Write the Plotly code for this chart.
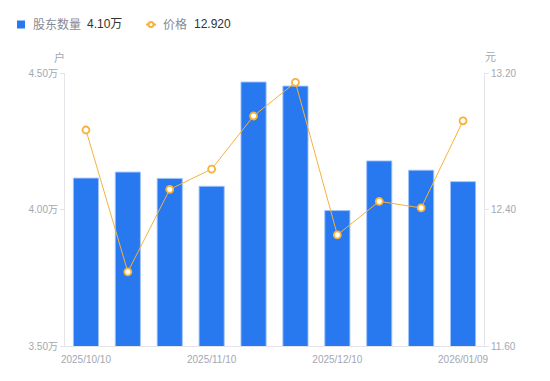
import plotly.graph_objects as go

dates = ["2025/10/10", "2025/10/20", "2025/10/31", "2025/11/10", "2025/11/20",
         "2025/11/28", "2025/12/10", "2025/12/19", "2025/12/31", "2026/01/09"]
holders_wan = [4.115, 4.137, 4.114, 4.085, 4.467, 4.452, 3.996, 4.178, 4.144, 4.102]
price = [12.866, 12.034, 12.518, 12.637, 12.948, 13.145, 12.251, 12.448, 12.409, 12.920]

x_ticks = ["2025/10/10", "2025/11/10", "2025/12/10", "2026/01/09"]
left_ticks = [3.5, 4.0, 4.5]
left_ticktext = ["3.50万", "4.00万", "4.50万"]
right_ticks = [11.6, 12.4, 13.2]
right_ticktext = ["11.60", "12.40", "13.20"]
legend_names = ["股东数量", "价格"]
legend_values = ["4.10万", "12.920"]

FONT = "Liberation Sans, Arial, Noto Sans CJK SC, sans-serif"
GRAY = "#a3a7b3"
AXIS = "#e3e5ea"
BLUE = "#2878f0"
ORANGE = "#f7b23b"

# page body has an 8px default margin; figure is sized so the photographed
# window (550x381) maps onto the intended layout
OFF = 8
W, H = 550 - OFF, 381 - OFF
PL, PR, PT, PB = 65, 484, 73, 346          # plot area in window pixels
L, T = PL - OFF, PT - OFF
R, B = W - (PR - OFF), H - (PB - OFF)
PW, PH = PR - PL, PB - PT


def px(x):
    return (x - PL) / PW


def py(y):
    return (PB - y) / PH


fig = go.Figure()
fig.add_trace(go.Bar(
    x=dates, y=holders_wan, yaxis="y", name=legend_names[0],
    marker=dict(color=BLUE, line=dict(color="rgba(160,195,250,0.9)", width=1)),
    width=0.6,
))
fig.add_trace(go.Scatter(
    x=dates, y=price, yaxis="y2", mode="lines+markers", name=legend_names[1],
    line=dict(color=ORANGE, width=1),
    marker=dict(symbol="circle", size=7, color="white", line=dict(color=ORANGE, width=1.8)),
))

shapes = [
    dict(type="rect", xref="paper", yref="paper", x0=px(17), x1=px(25), y0=py(28.5), y1=py(20.5),
         fillcolor=BLUE, line=dict(width=0)),
    dict(type="line", xref="paper", yref="paper", x0=px(146), x1=px(156), y0=py(24.5), y1=py(24.5),
         line=dict(color=ORANGE, width=2)),
    dict(type="circle", xref="paper", yref="paper", x0=px(148.5), x1=px(153.5), y0=py(27), y1=py(22),
         fillcolor="white", line=dict(color=ORANGE, width=2)),
]

annotations = [
    dict(text=legend_names[0], x=px(31), y=py(24.5), font=dict(size=12, color="#858a96")),
    dict(text=legend_values[0], x=px(85), y=py(24.5), font=dict(size=12, color="#333333")),
    dict(text=legend_names[1], x=px(161), y=py(24.5), font=dict(size=12, color="#858a96")),
    dict(text=legend_values[1], x=px(192), y=py(24.5), font=dict(size=12, color="#333333")),
]
for a in annotations:
    a.update(xref="paper", yref="paper", xanchor="left", yanchor="middle", showarrow=False)
annotations += [
    dict(text="户", xref="paper", yref="paper", x=px(59), y=py(57), showarrow=False,
         xanchor="center", yanchor="middle", font=dict(size=11, color=GRAY)),
    dict(text="元", xref="paper", yref="paper", x=px(490), y=py(57), showarrow=False,
         xanchor="center", yanchor="middle", font=dict(size=11, color=GRAY)),
]

fig.update_layout(
    width=W, height=H,
    margin=dict(l=L, r=R, t=T, b=B, autoexpand=False),
    paper_bgcolor="white", plot_bgcolor="white",
    font=dict(family=FONT, size=10, color=GRAY),
    showlegend=False,
    bargap=0.4,
    xaxis=dict(type="category", tickmode="array", tickvals=x_ticks, ticktext=x_ticks,
               showgrid=False, showline=True, linecolor=AXIS, linewidth=1, automargin=False,
               ticks="", ticklabelstandoff=4, tickfont=dict(size=10, color=GRAY),
               range=[-0.5, 9.5]),
    yaxis=dict(range=[3.5, 4.5], tickvals=left_ticks, ticktext=left_ticktext,
               showgrid=False, showline=True, linecolor=AXIS, linewidth=1, automargin=False,
               ticks="outside", ticklen=4, tickcolor=AXIS, zeroline=False,
               tickfont=dict(size=10, color=GRAY)),
    yaxis2=dict(range=[11.6, 13.2], tickvals=right_ticks, ticktext=right_ticktext,
                overlaying="y", side="right", showgrid=False, showline=True, automargin=False,
                linecolor=AXIS, linewidth=1, ticks="outside", ticklen=4, tickcolor=AXIS,
                zeroline=False, tickfont=dict(size=10, color=GRAY)),
    shapes=shapes,
    annotations=annotations,
)

fig.write_html("out.html")
